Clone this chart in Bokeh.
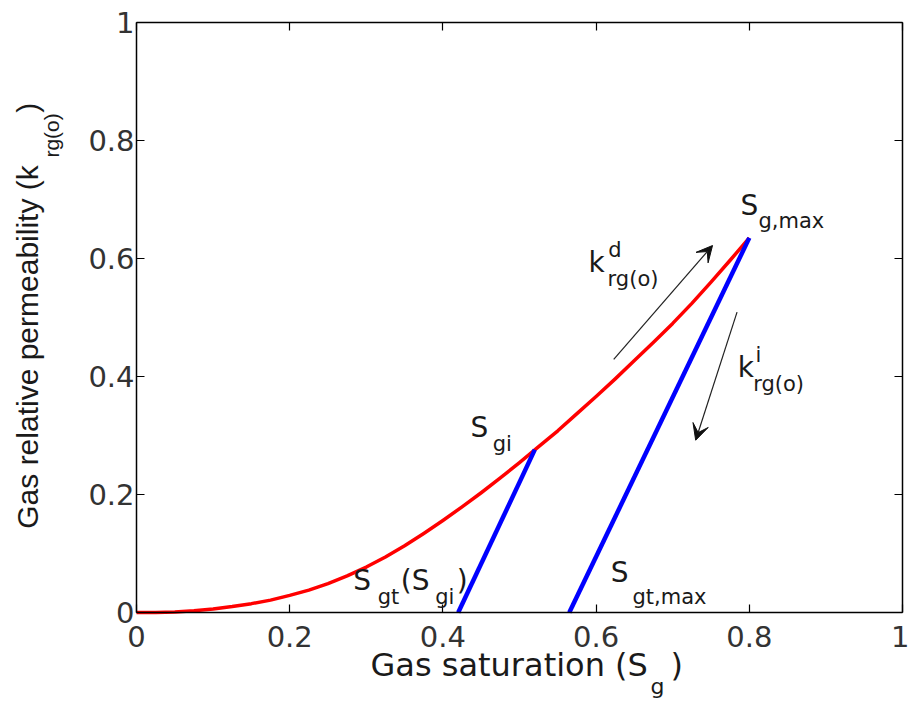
import math
from bokeh.plotting import figure
from bokeh.models import (Range1d, FixedTicker, LinearAxis, Label, Arrow, VeeHead,
                          CustomJSTickFormatter)
from bokeh.embed import file_html
from bokeh.resources import INLINE

# ---- data ----
sg_drainage = [0.0, 0.025, 0.05, 0.075, 0.1, 0.125, 0.15, 0.175, 0.2, 0.225, 0.25,
               0.275, 0.3, 0.325, 0.35, 0.375, 0.4, 0.425, 0.45, 0.475, 0.5, 0.525,
               0.55, 0.575, 0.6, 0.625, 0.65, 0.675, 0.7, 0.725, 0.75, 0.775, 0.8]
krg_drainage = [0.0, 0.0, 0.001, 0.003, 0.006, 0.010, 0.015, 0.021, 0.029, 0.038, 0.049,
                0.062, 0.077, 0.094, 0.113, 0.134, 0.156, 0.179, 0.203, 0.228, 0.254, 0.281,
                0.308, 0.337, 0.366, 0.396, 0.427, 0.458, 0.490, 0.524, 0.560, 0.597, 0.635]
sg_imbibition_1 = [0.42, 0.52]
krg_imbibition_1 = [0.0, 0.276]
sg_imbibition_2 = [0.565, 0.80]
krg_imbibition_2 = [0.0, 0.635]
tick_values = [0.0, 0.2, 0.4, 0.6, 0.8, 1.0]
tick_labels = ["0", "0.2", "0.4", "0.6", "0.8", "1"]

TXT = "#1a1a1a"
SANS = "DejaVu Sans"

# canvas 909x702; the [0,1]x[0,1] box sits at x 136..902 px, y 22..612 px
W, H = 909, 702
L, R, T, B = 136, 902, 22, 612
sx = 1.0 / (R - L)
sy = 1.0 / (B - T)
p = figure(width=W, height=H, output_backend="svg", toolbar_location=None,
           x_range=Range1d(-L * sx, (W - L) * sx),
           y_range=Range1d(-(H - B) * sy, 1 + T * sy),
           min_border=0, background_fill_color="white",
           border_fill_color="white")
p.grid.visible = False
p.outline_line_color = None
p.xaxis.visible = False
p.yaxis.visible = False

overrides = {v: s for v, s in zip(tick_values, tick_labels)}


def make_axis(fixed, show_labels):
    ax = LinearAxis(ticker=FixedTicker(ticks=tick_values), fixed_location=fixed,
                    bounds=(0, 1), major_tick_in=8, major_tick_out=0,
                    minor_tick_in=0, minor_tick_out=0,
                    axis_line_color="black", axis_line_width=1.5,
                    major_tick_line_color="black", major_tick_line_width=1.2,
                    major_label_text_font=SANS, major_label_text_font_size="29px",
                    major_label_text_color="#333333")
    if show_labels:
        ax.major_label_overrides = overrides
    else:
        ax.formatter = CustomJSTickFormatter(code="return ''")
    return ax


xb = make_axis(0, True)
xb.major_label_standoff = 13
p.add_layout(xb, "below")
yl = make_axis(0, True)
yl.major_label_standoff = 2
p.add_layout(yl, "left")
p.add_layout(make_axis(1, False), "above")
p.add_layout(make_axis(1, False), "right")

# curves
p.line(sg_drainage, krg_drainage, line_color="#ff0000", line_width=3.5,
       line_join="round")
p.line(sg_imbibition_1, krg_imbibition_1, line_color="#0000ff", line_width=4.5)
p.line(sg_imbibition_2, krg_imbibition_2, line_color="#0000ff", line_width=4.5)

# arrows
for (x0, y0, x1, y1) in [(0.623, 0.429, 0.752, 0.622), (0.784, 0.509, 0.730, 0.292)]:
    p.add_layout(Arrow(x_start=x0, y_start=y0, x_end=x1, y_end=y1,
                       line_color="#222222", line_width=1.2,
                       end=VeeHead(size=16, fill_color="#111111",
                                   line_color="#111111")))


def txt(x, y, s, size, font=SANS, angle=0.0):
    # the svg backend draws the alphabetic baseline about a third of an em low
    shift = round(0.34 * size)
    if angle:
        xo, yo = -shift, 0
    else:
        xo, yo = 0, shift
    p.add_layout(Label(x=x, y=y, text=s, text_font=font,
                       text_font_size=f"{size}px", text_color=TXT,
                       text_align="left", text_baseline="alphabetic",
                       x_offset=xo, y_offset=yo,
                       angle=angle, angle_units="rad"))


M, S = 28, 21
# S_g,max
txt(0.7885, 0.673, "S", M)
txt(0.812, 0.651, "g,max", S)
# k^d_rg(o)
txt(0.590, 0.576, "k", M)
txt(0.616, 0.602, "d", S)
txt(0.615, 0.553, "rg(o)", S)
# k^i_rg(o)
txt(0.785, 0.398, "k", M)
txt(0.808, 0.424, "i", S)
txt(0.805, 0.376, "rg(o)", S)
# S_gi
txt(0.436, 0.297, "S", M)
txt(0.465, 0.273, "gi", S)
# S_gt(S_gi)
txt(0.283, 0.037, "S", M)
txt(0.315, 0.015, "gt", S)
txt(0.345, 0.037, "(S", M)
txt(0.390, 0.0136, "gi", S)
txt(0.418, 0.037, ")", M)
# S_gt,max
txt(0.619, 0.051, "S", M)
txt(0.6475, 0.015, "gt,max", S)

# x axis label
txt(0.3055, -0.1068, "Gas saturation (S", 32)
txt(0.671, -0.1373, "g", 22)
txt(0.697, -0.1068, ")", 32)

# y axis label (rotated)
YF = "Liberation Sans"
txt(-0.129, 0.142, "Gas relative permeability (k", 30, YF, math.pi / 2)
txt(-0.1018, 0.771, "rg(o)", 21, YF, math.pi / 2)
txt(-0.129, 0.847, ")", 30, YF, math.pi / 2)

open("out.html", "w").write(file_html(p, INLINE))
